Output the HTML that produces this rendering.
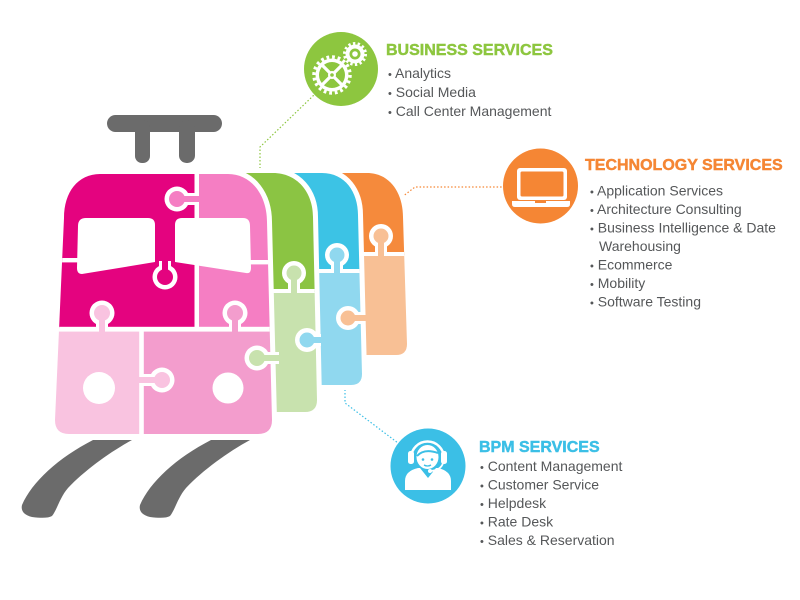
<!DOCTYPE html>
<html>
<head>
<meta charset="utf-8">
<style>
  html,body{margin:0;padding:0;background:#fff;}
  body{width:800px;height:600px;overflow:hidden;}
  svg{display:block;}
  .t{font-family:"Liberation Sans",Arial,sans-serif;}
  .h{font-weight:bold;font-size:16px;stroke-width:0.45px;}
  .l{font-size:14px;fill:#555759;}
  .b{font-size:11px;}
</style>
</head>
<body>
<svg width="800" height="600" viewBox="0 0 800 600" xmlns="http://www.w3.org/2000/svg">
  <defs>
    <clipPath id="cF"><path d="M100,174 L228,174 C252,174 267,196 267,222 L272,420 Q272,434 258,434 L69,434 Q55,434 55,420 L64,218 C64,192 78,174 100,174 Z"/></clipPath>
    <clipPath id="cG"><path d="M200,173 L273,173 C297,173 313,192 313,217 L317,400 Q317,412 305,412 L200,412 Z"/></clipPath>
    <clipPath id="cB"><path d="M250,173 L322,173 C345,173 358,192 358,215 L362,374 Q362,385 351,385 L250,385 Z"/></clipPath>
    <clipPath id="cO"><path d="M300,173 L367,173 C390,173 403,193 403,217 L407,344 Q407,355 396,355 L300,355 Z"/></clipPath>
  </defs>

  <!-- connectors -->
  <g fill="none" stroke-width="1.2" stroke-dasharray="1.5 2">
    <polyline points="260,172 260,147 314,95" stroke="#8dc63f"/>
    <polyline points="402,197 415,187 503,187" stroke="#f58634"/>
    <polyline points="345,386 345,403 398,443" stroke="#3bbfe6"/>
  </g>

  <!-- handle -->
  <g fill="#6b6b6b">
    <rect x="107" y="115" width="115" height="17" rx="8.5"/>
    <rect x="135" y="120" width="15" height="43" rx="7"/>
    <rect x="179" y="120" width="16" height="43" rx="7.5"/>
  </g>

  <!-- rails -->
  <g fill="#6b6b6b">
    <path d="M93,440 L132,440 C110,452 85,470 68,488 C60,497 57,510 52,516 Q47,519 32,517 Q20,514 22,505 C32,482 58,458 93,440 Z"/>
    <path transform="translate(118,0)" d="M93,440 L132,440 C110,452 85,470 68,488 C60,497 57,510 52,516 Q47,519 32,517 Q20,514 22,505 C32,482 58,458 93,440 Z"/>
  </g>

  <!-- orange column -->
  <path d="M300,173 L367,173 C390,173 403,193 403,217 L407,344 Q407,355 396,355 L300,355 Z" fill="#fff" stroke="#fff" stroke-width="10"/>
  <g clip-path="url(#cO)">
    <rect x="290" y="160" width="130" height="95" fill="#f58a3c"/>
    <rect x="290" y="254" width="130" height="110" fill="#f8c095"/>
    <rect x="290" y="252" width="130" height="4" fill="#fff"/>
  </g>

  <!-- blue column -->
  <path d="M250,173 L322,173 C345,173 358,192 358,215 L362,374 Q362,385 351,385 L250,385 Z" fill="#fff" stroke="#fff" stroke-width="10"/>
  <g clip-path="url(#cB)">
    <rect x="240" y="160" width="130" height="112" fill="#3cc3e5"/>
    <rect x="240" y="271" width="130" height="120" fill="#90d8ef"/>
    <rect x="240" y="269" width="130" height="4" fill="#fff"/>
  </g>

  <!-- green column -->
  <path d="M200,173 L273,173 C297,173 313,192 313,217 L317,400 Q317,412 305,412 L200,412 Z" fill="#fff" stroke="#fff" stroke-width="10"/>
  <g clip-path="url(#cG)">
    <rect x="190" y="160" width="135" height="132" fill="#8bc443"/>
    <rect x="190" y="291" width="135" height="130" fill="#c8e2ae"/>
    <rect x="190" y="289" width="135" height="4" fill="#fff"/>
  </g>

  <!-- front -->
  <path d="M100,174 L228,174 C252,174 267,196 267,222 L272,420 Q272,434 258,434 L69,434 Q55,434 55,420 L64,218 C64,192 78,174 100,174 Z" fill="#fff" stroke="#fff" stroke-width="10"/>
  <g clip-path="url(#cF)">
    <rect x="50" y="170" width="148" height="160" fill="#e4037f"/>
    <rect x="196" y="170" width="85" height="160" fill="#f57ec3"/>
    <rect x="50" y="328" width="93" height="110" fill="#f9c3e0"/>
    <rect x="141" y="328" width="140" height="110" fill="#f39dcd"/>
    <rect x="194.5" y="168" width="4.5" height="162" fill="#fff"/>
    <rect x="50" y="326.8" width="230" height="4.8" fill="#fff"/>
    <rect x="139.2" y="329" width="4.6" height="110" fill="#fff"/>
    <rect x="50" y="258" width="30" height="4.4" fill="#fff"/>
    <rect x="248" y="260" width="30" height="4.4" fill="#fff"/>
  </g>

  <!-- windows -->
  <g fill="#fff">
    <path d="M86,218 L148,218 Q155,218 155,225 L155,262 L82,274 Q77,274 77,268 L78,226 Q78,218 86,218 Z"/>
    <path d="M182,218 L243,218 Q250,218 250,226 L251,268 Q251,274 246,273 L175,262 L175,225 Q175,218 182,218 Z"/>
  </g>

  <!-- wheels -->
  <circle cx="99" cy="388" r="16" fill="#fff"/>
  <circle cx="228" cy="388" r="15.5" fill="#fff"/>

  <!-- knobs: white outline then colour -->
  <g fill="#fff">
    <circle cx="177" cy="199" r="12.5"/><rect x="177" y="193" width="20" height="12"/>
    <circle cx="165" cy="277" r="12.5"/><rect x="159" y="261" width="12" height="16"/>
    <circle cx="102" cy="313" r="12.5"/><rect x="96" y="313" width="12" height="16"/>
    <circle cx="235" cy="313" r="12.5"/><rect x="229" y="313" width="12" height="16"/>
    <circle cx="162" cy="380" r="12.5"/><rect x="143" y="374" width="19" height="12"/>
    <circle cx="257" cy="358" r="12.5"/><rect x="257" y="352" width="22" height="12"/>
    <circle cx="294" cy="273" r="12"/><rect x="288" y="273" width="12" height="18"/>
    <circle cx="307" cy="340" r="12"/><rect x="307" y="334" width="14" height="12"/>
    <circle cx="337" cy="255" r="12"/><rect x="331" y="255" width="12" height="16"/>
    <circle cx="348" cy="318" r="12"/><rect x="348" y="312" width="15" height="12"/>
    <circle cx="381" cy="236" r="12"/><rect x="375" y="236" width="12" height="18"/>
  </g>
  <circle cx="177" cy="199" r="8" fill="#f57ec3"/><rect x="177" y="196" width="24" height="6" fill="#f57ec3"/>
  <circle cx="165" cy="277" r="8" fill="#e4037f"/><rect x="162" y="255" width="6" height="22" fill="#e4037f"/>
  <circle cx="102" cy="313" r="8" fill="#f9c3e0"/><rect x="99" y="313" width="6" height="22" fill="#f9c3e0"/>
  <circle cx="235" cy="313" r="8" fill="#f39dcd"/><rect x="232" y="313" width="6" height="22" fill="#f39dcd"/>
  <circle cx="162" cy="380" r="8" fill="#f9c3e0"/><rect x="136" y="377" width="26" height="6" fill="#f9c3e0"/>
  <circle cx="257" cy="358" r="8" fill="#c8e2ae"/><rect x="257" y="355" width="28" height="6" fill="#c8e2ae"/>
  <circle cx="294" cy="273" r="7.5" fill="#c8e2ae"/><rect x="291" y="273" width="6" height="24" fill="#c8e2ae"/>
  <circle cx="307" cy="340" r="7.5" fill="#90d8ef"/><rect x="307" y="337" width="20" height="6" fill="#90d8ef"/>
  <circle cx="337" cy="255" r="7.5" fill="#90d8ef"/><rect x="334" y="255" width="6" height="22" fill="#90d8ef"/>
  <circle cx="348" cy="318" r="7.5" fill="#f8c095"/><rect x="348" y="315" width="22" height="6" fill="#f8c095"/>
  <circle cx="381" cy="236" r="7.5" fill="#f8c095"/><rect x="378" y="236" width="6" height="24" fill="#f8c095"/>

  <!-- Business icon -->
  <circle cx="341" cy="69" r="37" fill="#8dc63f"/>
  <g>
    <circle cx="332" cy="75" r="18" fill="none" stroke="#fff" stroke-width="3.5" stroke-dasharray="2.8 2.85"/>
    <circle cx="332" cy="75" r="16.5" fill="#fff"/>
    <circle cx="332" cy="75" r="13" fill="#8dc63f"/>
    <g stroke="#fff" stroke-width="3.2" stroke-linecap="round">
      <line x1="323" y1="66" x2="341" y2="84"/>
      <line x1="341" y1="66" x2="323" y2="84"/>
    </g>
    <circle cx="332" cy="75" r="4" fill="#fff"/>
    <circle cx="332" cy="75" r="1.8" fill="#8dc63f"/>
    <circle cx="355" cy="54" r="10.5" fill="none" stroke="#fff" stroke-width="3" stroke-dasharray="2.35 2.36"/>
    <circle cx="355" cy="54" r="9.5" fill="#fff"/>
    <circle cx="355" cy="54" r="5.5" fill="#8dc63f"/>
    <circle cx="355" cy="54" r="2.8" fill="#fff"/>
  </g>

  <!-- Technology icon -->
  <circle cx="540.5" cy="186" r="37.5" fill="#f58634"/>
  <rect x="517" y="168" width="50" height="32" rx="3" fill="#fff"/>
  <rect x="520.5" y="171.5" width="43" height="25" rx="1.5" fill="#f58634"/>
  <path d="M512,201 L570,201 L570,204 Q570,207 567,207 L515,207 Q512,207 512,204 Z" fill="#fff"/>
  <rect x="535" y="201" width="11" height="2" fill="#f58634"/>

  <!-- BPM icon -->
  <circle cx="428" cy="466" r="37.5" fill="#3bbfe6"/>
  <g>
    <path d="M405,490 L405,481 Q405,471 418,468 L420,468 L428,478 L436,468 L438,468 Q451,471 451,481 L451,490 Z" fill="#fff"/>
    <ellipse cx="427.5" cy="457" rx="11" ry="12" fill="#fff"/>
    <path d="M417,456 Q424,448 438,453" fill="none" stroke="#3bbfe6" stroke-width="2"/>
    <circle cx="423" cy="459.5" r="1.3" fill="#3bbfe6"/>
    <circle cx="432" cy="459.5" r="1.3" fill="#3bbfe6"/>
    <path d="M424,465 Q427.5,467 431,465" fill="none" stroke="#3bbfe6" stroke-width="1.3"/>
    <path d="M411,458 A16.5,16.5 0 0 1 444,458" fill="none" stroke="#fff" stroke-width="2.5"/>
    <rect x="408" y="451" width="6" height="13" rx="2.5" fill="#fff"/>
    <rect x="441" y="451" width="6" height="13" rx="2.5" fill="#fff"/>
    <path d="M443,463 Q441,470 431,471" fill="none" stroke="#fff" stroke-width="1.8"/>
    <circle cx="430" cy="471" r="2" fill="#fff"/>
  </g>

  <!-- Texts -->
  <g class="t">
    <text class="h" x="386" y="55" fill="#8dc63f" stroke="#8dc63f">BUSINESS SERVICES</text>
    <text class="l" x="388" y="78"><tspan class="b">•</tspan> Analytics</text>
    <text class="l" x="388" y="97"><tspan class="b">•</tspan> Social Media</text>
    <text class="l" x="388" y="116"><tspan class="b">•</tspan> Call Center Management</text>

    <text class="h" x="585" y="170" fill="#f58634" stroke="#f58634">TECHNOLOGY SERVICES</text>
    <text class="l" x="590" y="195.5"><tspan class="b">•</tspan> Application Services</text>
    <text class="l" x="590" y="214"><tspan class="b">•</tspan> Architecture Consulting</text>
    <text class="l" x="590" y="232.5"><tspan class="b">•</tspan> Business Intelligence &amp; Date</text>
    <text class="l" x="599" y="251">Warehousing</text>
    <text class="l" x="590" y="269.5"><tspan class="b">•</tspan> Ecommerce</text>
    <text class="l" x="590" y="288"><tspan class="b">•</tspan> Mobility</text>
    <text class="l" x="590" y="306.5"><tspan class="b">•</tspan> Software Testing</text>

    <text class="h" x="479" y="452" fill="#3bbfe6" stroke="#3bbfe6">BPM SERVICES</text>
    <text class="l" x="480" y="471"><tspan class="b">•</tspan> Content Management</text>
    <text class="l" x="480" y="489.5"><tspan class="b">•</tspan> Customer Service</text>
    <text class="l" x="480" y="508"><tspan class="b">•</tspan> Helpdesk</text>
    <text class="l" x="480" y="526.5"><tspan class="b">•</tspan> Rate Desk</text>
    <text class="l" x="480" y="545"><tspan class="b">•</tspan> Sales &amp; Reservation</text>
  </g>
</svg>
</body>
</html>
